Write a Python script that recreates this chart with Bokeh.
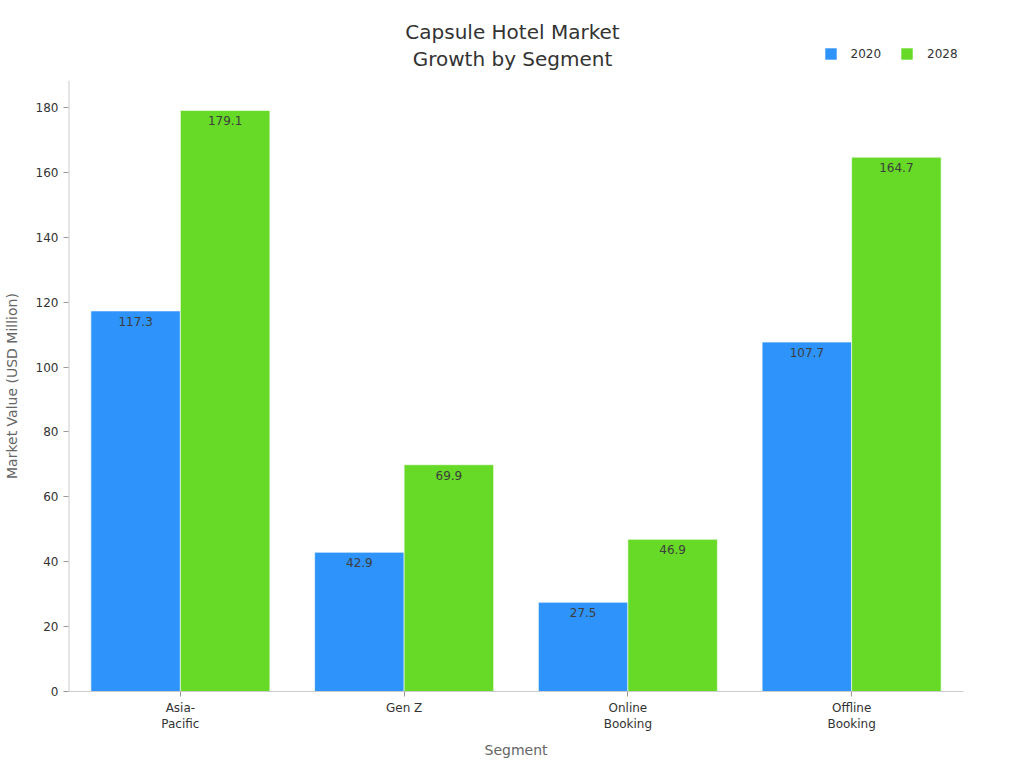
from bokeh.plotting import figure
from bokeh.models import ColumnDataSource, Range1d, Legend, LegendItem, Label
from bokeh.transform import dodge
from bokeh.core.properties import value
from bokeh.embed import file_html
from bokeh.resources import INLINE

# data
segments = ["Asia-\nPacific", "Gen Z", "Online\nBooking", "Offline\nBooking"]
values_2020 = [117.3, 42.9, 27.5, 107.7]
values_2028 = [179.1, 69.9, 46.9, 164.7]
series_names = ["2020", "2028"]
series_colors = ["#2E93FA", "#66DA26"]
y_ticks = [0, 20, 40, 60, 80, 100, 120, 140, 160, 180]
y_axis_top = 188.3

source = ColumnDataSource(data=dict(
    segment=segments,
    v2020=values_2020,
    v2028=values_2028,
    t2020=[f"{v:.1f}" for v in values_2020],
    t2028=[f"{v:.1f}" for v in values_2028],
))

FONT = "DejaVu Sans"

# frame runs to the top of the canvas so the title and legend can sit inside it
p = figure(
    x_range=segments,
    y_range=Range1d(0, 213.0),
    width=1024,
    height=768,
    title=None,
    output_backend="svg",
    toolbar_location=None,
    min_border_left=68,
    min_border_right=61,
    min_border_top=0,
    min_border_bottom=77,
)
p.x_range.range_padding = 0

renderers = []
for name, col, color, off in [("2020", "v2020", series_colors[0], -0.2),
                              ("2028", "v2028", series_colors[1], 0.2)]:
    r = p.vbar(x=dodge("segment", off, range=p.x_range), top=col, width=0.4,
               source=source, fill_color=color, line_color="white", line_width=1,
               line_alpha=0.6)
    renderers.append(r)
    p.text(x=dodge("segment", off, range=p.x_range), y=col, text="t" + col[1:],
           source=source, text_align="center", text_baseline="top", y_offset=6,
           text_font=value(FONT), text_font_size="12px", text_color="#3d3d3d")

# y axis line only as tall as the value scale
p.segment(x0=[0], y0=[0], x1=[0], y1=[y_axis_top], line_color="#cccccc", line_width=2)

# title
for txt, yy in [("Capsule Hotel Market", 203.3), ("Growth by Segment", 195.0)]:
    p.add_layout(Label(x=2, y=yy, x_offset=-3.5, text=txt, text_align="center",
                       text_baseline="middle", text_font=FONT, text_font_size="20px",
                       text_color="#333333"))

legend = Legend(
    items=[LegendItem(label=series_names[i], renderers=[renderers[i]]) for i in range(2)],
    orientation="horizontal",
    location=(754.5, 630),
    border_line_color=None,
    background_fill_alpha=0,
    padding=0,
    margin=0,
    label_text_font=FONT,
    label_text_font_size="12px",
    label_text_color="#333333",
    glyph_width=15,
    glyph_height=15,
    spacing=18,
    label_standoff=13,
)
p.add_layout(legend)

p.xgrid.grid_line_color = None
p.ygrid.grid_line_color = None
p.outline_line_color = None

p.xaxis.axis_label = "Segment"
# trailing no-break spaces centre the label on the value scale, not the whole frame
p.yaxis.axis_label = "Market Value (USD Million)" + "\u00a0" * 18
for ax in (p.xaxis, p.yaxis):
    ax.axis_label_text_font = FONT
    ax.axis_label_text_font_size = "14px"
    ax.axis_label_text_font_style = "normal"
    ax.axis_label_text_color = "#666666"
    ax.major_label_text_font = FONT
    ax.major_label_text_font_size = "12px"
    ax.major_label_text_color = "#333333"
    ax.axis_line_color = "#cccccc"
    ax.major_tick_line_color = "#999999"
    ax.major_tick_out = 5
    ax.major_tick_in = 0
    ax.minor_tick_line_color = None
p.yaxis.axis_line_color = None
p.yaxis.ticker = y_ticks
p.xaxis.major_label_standoff = 4
p.xaxis.axis_label_standoff = 8
p.yaxis.axis_label_standoff = 13

open("out.html", "w").write(file_html(p, INLINE))
